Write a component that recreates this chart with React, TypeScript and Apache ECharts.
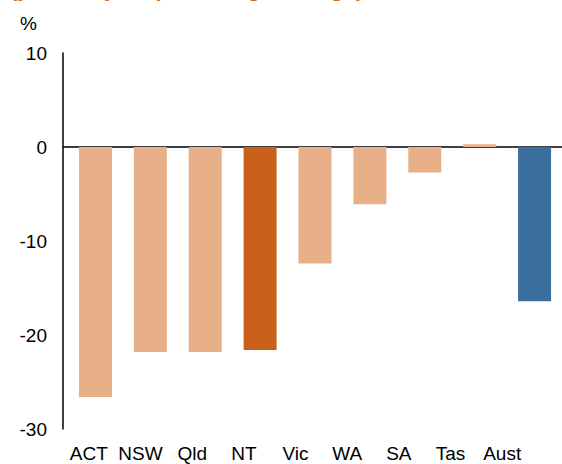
import React, { useEffect, useRef } from "react";
import * as echarts from "echarts";

const categories = ["ACT", "NSW", "Qld", "NT", "Vic", "WA", "SA", "Tas", "Aust"];
const values = [-26.6, -21.8, -21.8, -21.6, -12.4, -6.1, -2.7, 0.3, -16.4];
const barColors = ["#E7B089", "#E7B089", "#E7B089", "#C9601A", "#E7B089", "#E7B089", "#E7B089", "#E7B089", "#3A6F9D"];
const yTicks = { min: -30, max: 10, interval: 10 };
const unitLabel = "%";
const titleText = "(year-on-year percentage change)";

export default function App() {
  const ref = useRef<HTMLDivElement>(null);
  useEffect(() => {
    if (!ref.current) return;
    const chart = echarts.init(ref.current, undefined, { renderer: "svg" });
    const font = "'Liberation Sans', Arial, sans-serif";
    chart.setOption({
      animation: false,
      backgroundColor: "#ffffff",
      textStyle: { fontFamily: font },
      grid: [
        { left: 68, top: 53, width: 498, height: 376 },
        { left: 63, top: 53, width: 465, height: 376 },
      ],
      xAxis: [
        {
          type: "category",
          gridIndex: 0,
          data: categories,
          axisLine: { show: true, onZero: true, lineStyle: { color: "#000", width: 1.5 } },
          axisTick: { show: false },
          axisLabel: { show: false },
        },
        {
          type: "category",
          gridIndex: 1,
          data: categories,
          axisLine: { show: false, onZero: false },
          axisTick: { show: false },
          axisLabel: { show: true, color: "#000", fontSize: 19, fontFamily: font, margin: 15, interval: 0 },
        },
      ],
      yAxis: [
        {
          type: "value",
          gridIndex: 0,
          min: yTicks.min,
          max: yTicks.max,
          interval: yTicks.interval,
          offset: 5,
          axisLine: { show: true, lineStyle: { color: "#000", width: 1.5 } },
          axisTick: { show: false },
          splitLine: { show: false },
          axisLabel: { color: "#000", fontSize: 19, fontFamily: font, margin: 16 },
        },
        {
          type: "value",
          gridIndex: 1,
          min: yTicks.min,
          max: yTicks.max,
          show: false,
        },
      ],
      series: [
        {
          type: "bar",
          xAxisIndex: 0,
          yAxisIndex: 0,
          barWidth: 33,
          data: values.map((v, i) => ({ value: v, itemStyle: { color: barColors[i] } })),
        },
      ],
      graphic: [
        {
          type: "line",
          shape: { x1: 63, y1: 147, x2: 68, y2: 147 },
          style: { stroke: "#000", lineWidth: 1.5 },
        },
        {
          type: "text",
          x: 20,
          y: 23,
          style: { text: unitLabel, fontSize: 19, fontFamily: font, fill: "#000", verticalAlign: "middle" },
        },
        {
          type: "text",
          x: 10,
          y: -0.5,
          style: {
            text: titleText,
            fontSize: 22,
            fontWeight: "bold",
            fontFamily: font,
            fill: "#D2691E",
            verticalAlign: "bottom",
          },
        },
      ],
    });
    return () => chart.dispose();
  }, []);
  return (
    <div
      ref={ref}
      style={{ position: "fixed", left: 0, top: 0, width: 562, height: 464 }}
    />
  );
}
